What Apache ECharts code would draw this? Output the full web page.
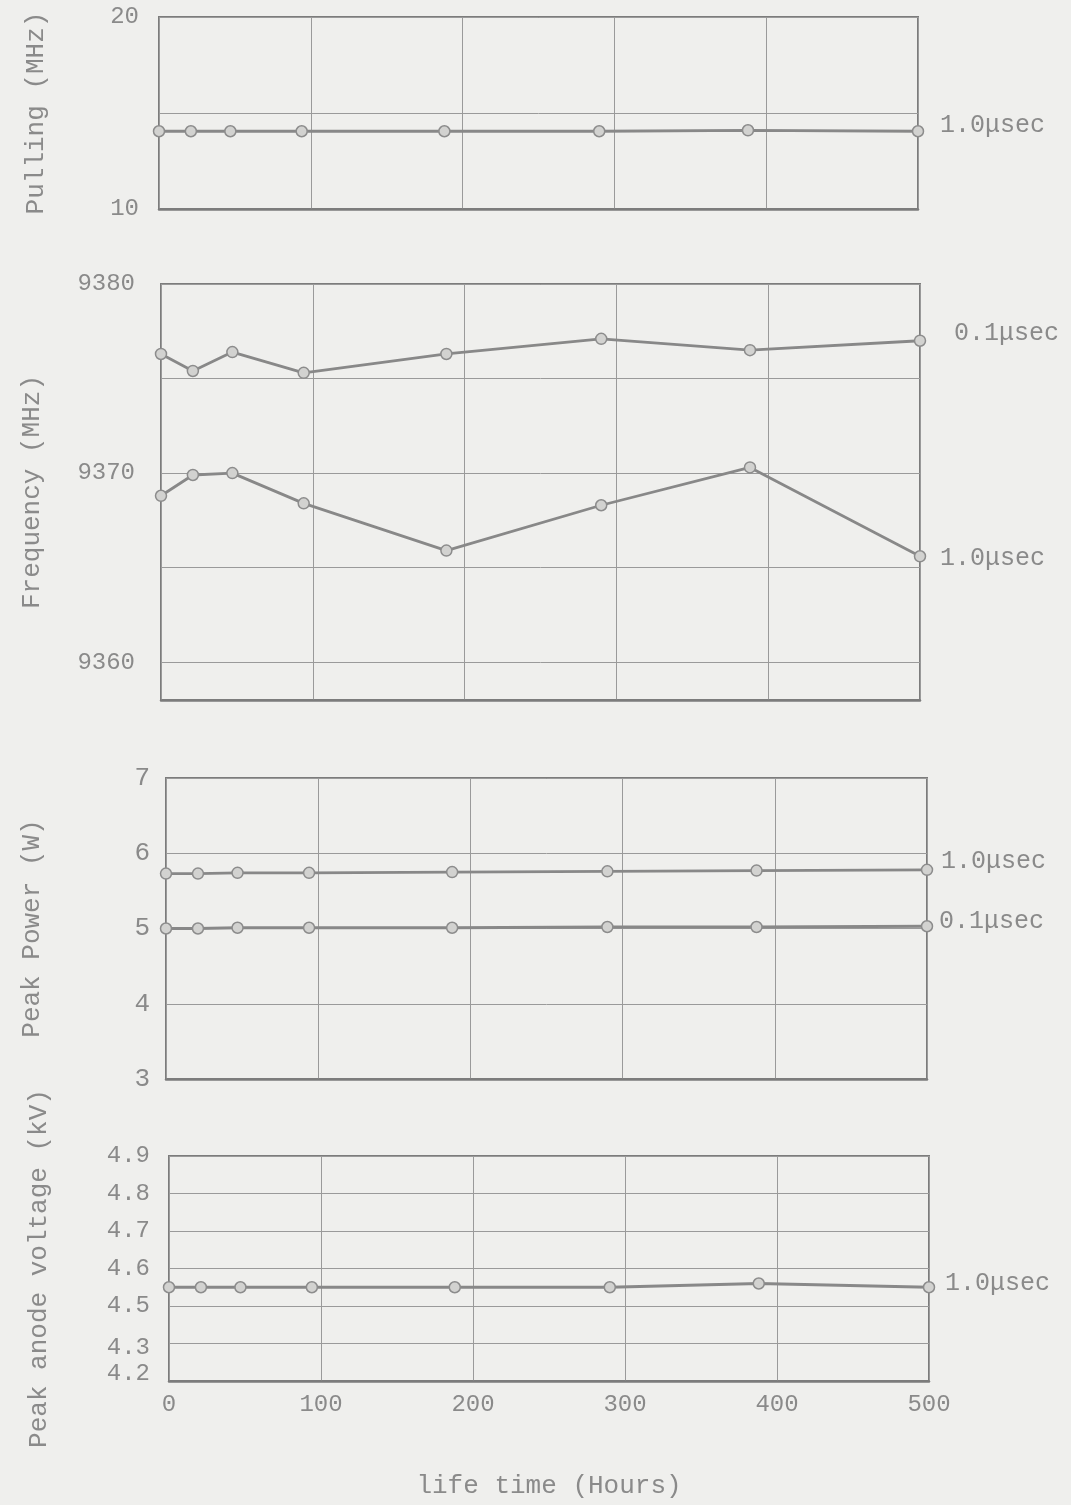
<!DOCTYPE html>
<html>
<head>
<meta charset="utf-8">
<title>Life test</title>
<script src="https://cdn.jsdelivr.net/npm/echarts@6/dist/echarts.min.js"></script>
<style>
html,body{margin:0;padding:0;background:#efefed;}
#chart{width:1071px;height:1505px;}
</style>
</head>
<body>
<div id="chart"></div>
<script>
// hours of operation at which each reading was taken
var hours        = [0, 21, 47, 94, 188, 290, 388, 500];
var xTicks       = [0, 100, 200, 300, 400, 500];

var pulling10    = [14.05, 14.05, 14.05, 14.05, 14.05, 14.05, 14.1, 14.05];
var freq01       = [9376.3, 9375.4, 9376.4, 9375.3, 9376.3, 9377.1, 9376.5, 9377.0];
var freq10       = [9368.8, 9369.9, 9370.0, 9368.4, 9365.9, 9368.3, 9370.3, 9365.6];
var power10      = [5.73, 5.73, 5.74, 5.74, 5.75, 5.76, 5.77, 5.78];
var power01      = [5.0, 5.0, 5.01, 5.01, 5.01, 5.02, 5.02, 5.03];
var volt10       = [4.55, 4.55, 4.55, 4.55, 4.55, 4.55, 4.56, 4.55];

var pullTicks    = [10, 20];
var freqGrid     = [9360, 9365, 9370, 9375, 9380];
var freqTicks    = [9360, 9370, 9380];
// labels as printed on the voltage axis, bottom to top
var voltTicks    = ['4.2', '4.3', '4.5', '4.6', '4.7', '4.8', '4.9'];

var FONT  = 'Liberation Mono';
var INK   = '#8a8a8a';
var LINE  = '#888888';

function pairs(ys){
    var out = [];
    for(var i=0;i<hours.length;i++){
        out.push([hours[i], ys[i]]);
    }
    return out;
}

function xAxisFor(idx, showLabels){
    return {
        type: 'value', gridIndex: idx, min: 0, max: 500, interval: 100,
        axisLine: {show: true, lineStyle: {color: '#7c7c7c', width: 2.5}},
        axisTick: {show: false},
        splitLine: {show: true, lineStyle: {color: '#9a9a9a', width: 1}},
        axisLabel: {show: showLabels, color: INK, fontFamily: FONT, fontSize: 24, margin: 12,
            formatter: function(v){ return xTicks.indexOf(v) >= 0 ? String(v) : ''; }},
        name: showLabels ? 'life time (Hours)' : '',
        nameLocation: 'middle', nameGap: 92,
        nameTextStyle: {color: INK, fontFamily: FONT, fontSize: 26}
    };
}

function lineSeries(name, x, y, data, offset){
    return {
        name: name, type: 'line', xAxisIndex: x, yAxisIndex: y,
        data: pairs(data),
        symbol: 'circle', symbolSize: 11,
        lineStyle: {color: LINE, width: 2.8},
        itemStyle: {color: '#d2d2d0', borderColor: '#8c8c8c', borderWidth: 1.5},
        endLabel: {show: true, formatter: '{a}', color: INK, fontFamily: FONT, fontSize: 25,
            offset: offset, distance: 10},
        animation: false
    };
}

var nameStyle = {color: INK, fontFamily: FONT, fontSize: 26};

var chart = echarts.init(document.getElementById('chart'));
var option = {
    backgroundColor: '#efefed',
    grid: [
        {left: 159, top: 17,   width: 759, height: 192, show: true, borderColor: '#7c7c7c', borderWidth: 2},
        {left: 161, top: 284,  width: 759, height: 416, show: true, borderColor: '#7c7c7c', borderWidth: 2},
        {left: 166, top: 778,  width: 761, height: 301, show: true, borderColor: '#7c7c7c', borderWidth: 2},
        {left: 169, top: 1156, width: 760, height: 225, show: true, borderColor: '#7c7c7c', borderWidth: 2}
    ],
    xAxis: [xAxisFor(0, false), xAxisFor(1, false), xAxisFor(2, false), xAxisFor(3, true)],
    yAxis: [
        {
            type: 'value', gridIndex: 0, min: 10, max: 20, interval: 5,
            axisLine: {show: false}, axisTick: {show: false},
            splitLine: {lineStyle: {color: '#9a9a9a', width: 1}},
            axisLabel: {color: INK, fontFamily: FONT, fontSize: 24, margin: 20,
                formatter: function(v){ return pullTicks.indexOf(v) >= 0 ? String(v) : ''; }},
            name: 'Pulling (MHz)', nameLocation: 'middle', nameGap: 110, nameTextStyle: nameStyle
        },
        {
            type: 'value', gridIndex: 1, min: 9358, max: 9380,
            axisLine: {show: false},
            axisTick: {show: false, customValues: freqGrid},
            splitLine: {lineStyle: {color: '#9a9a9a', width: 1}},
            axisLabel: {color: INK, fontFamily: FONT, fontSize: 24, margin: 26, customValues: freqTicks,
                formatter: function(v){ return String(v); }},
            name: 'Frequency (MHz)', nameLocation: 'middle', nameGap: 116, nameTextStyle: nameStyle
        },
        {
            type: 'value', gridIndex: 2, min: 3, max: 7, interval: 1,
            axisLine: {show: false}, axisTick: {show: false},
            splitLine: {lineStyle: {color: '#9a9a9a', width: 1}},
            axisLabel: {color: INK, fontFamily: FONT, fontSize: 26, margin: 16},
            name: 'Peak Power (W)', nameLocation: 'middle', nameGap: 121, nameTextStyle: nameStyle
        },
        {
            type: 'value', gridIndex: 3, min: 4.3, max: 4.9, interval: 0.1,
            axisLine: {show: false}, axisTick: {show: false},
            splitLine: {lineStyle: {color: '#9a9a9a', width: 1}},
            axisLabel: {color: INK, fontFamily: FONT, fontSize: 24, margin: 19,
                showMinLabel: true, hideOverlap: false,
                formatter: function(v, i){
                    var t = voltTicks[i] || '';
                    if(i === 0) return '{lo|' + t + '}';
                    if(i === 1) return '{hi|' + t + '}';
                    return t;
                },
                rich: {
                    lo: {color: INK, fontFamily: FONT, fontSize: 24, padding: [0, 0, 14, 0]},
                    hi: {color: INK, fontFamily: FONT, fontSize: 24, padding: [8, 0, 0, 0]}
                }},
            name: 'Peak anode voltage (kV)', nameLocation: 'middle', nameGap: 117, nameTextStyle: nameStyle
        }
    ],
    series: [
        lineSeries('1.0μsec', 0, 0, pulling10, [12, -6]),
        lineSeries('0.1μsec', 1, 1, freq01, [24, -7]),
        lineSeries('1.0μsec', 1, 1, freq10, [10, 2]),
        lineSeries('1.0μsec', 2, 2, power10, [4, -8]),
        lineSeries('0.1μsec', 2, 2, power01, [2, -5]),
        lineSeries('1.0μsec', 3, 3, volt10, [6, -4])
    ]
};
chart.setOption(option);
</script>
</body>
</html>
